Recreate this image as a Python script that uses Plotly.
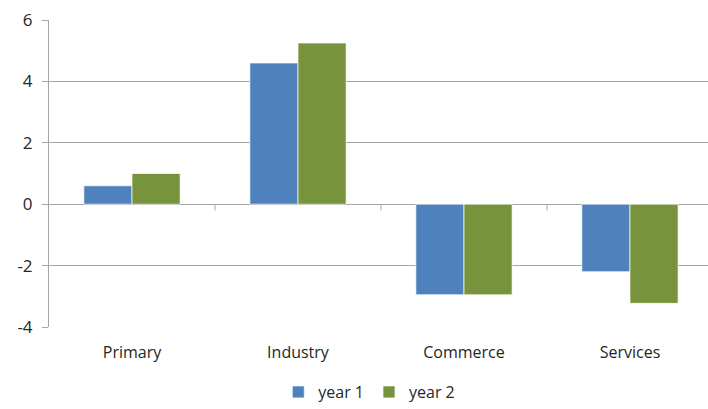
import plotly.graph_objects as go

categories = ["Primary", "Industry", "Commerce", "Services"]
year1 = [0.6, 4.6, -2.95, -2.2]
year2 = [1.0, 5.25, -2.95, -3.23]
series_names = ["year 1", "year 2"]
y_ticks = [-4, -2, 0, 2, 4, 6]
y_tick_text = ["-4", "-2", "0", "2", "4", "6"]

GRID = "#A6A6A6"
FONT = "Open Sans"
TEXT = "#262626"

fig = go.Figure()
fig.add_trace(go.Bar(x=categories, y=year1, name=series_names[0],
                     marker=dict(color="#4F81BD", line=dict(color="rgba(255,255,255,0.7)", width=1))))
fig.add_trace(go.Bar(x=categories, y=year2, name=series_names[1],
                     marker=dict(color="#77933C", line=dict(color="rgba(255,255,255,0.7)", width=1))))

# category tick marks on the zero line (between categories)
for b in [0.5, 1.5, 2.5]:
    fig.add_shape(type="line", xref="x", yref="y", x0=b, x1=b, y0=0, y1=-0.2,
                  line=dict(color=GRID, width=1))

fig.update_layout(
    width=708, height=409,
    margin=dict(l=49, r=0, t=20, b=82),
    plot_bgcolor="white", paper_bgcolor="white",
    barmode="group", bargap=0.42, bargroupgap=0,
    font=dict(family=FONT, size=16, color=TEXT),
    showlegend=True,
    legend=dict(orientation="h", x=0.486, xanchor="center",
                yref="container", y=-0.018, yanchor="bottom",
                font=dict(family=FONT, size=16, color=TEXT),
                itemwidth=30, tracegroupgap=0, itemclick=False),
    xaxis=dict(range=[-0.5, 3.47], showgrid=False, showline=False, ticks="",
               automargin=False,
               tickfont=dict(family=FONT, size=16, color=TEXT), ticklabelstandoff=14),
    yaxis=dict(range=[-4, 6], tickvals=y_ticks, ticktext=y_tick_text,
               showgrid=True, gridcolor=GRID, gridwidth=1,
               zeroline=True, zerolinecolor=GRID, zerolinewidth=1,
               showline=True, linecolor=GRID, linewidth=1,
               ticks="outside", ticklen=6, tickcolor=GRID, automargin=False,
               ticklabelstandoff=6,
               tickfont=dict(family=FONT, size=17, color=TEXT)),
)

fig.write_html("out.html", config={"displayModeBar": False},
               post_script="document.body.style.margin='0';document.body.style.padding='0';")
